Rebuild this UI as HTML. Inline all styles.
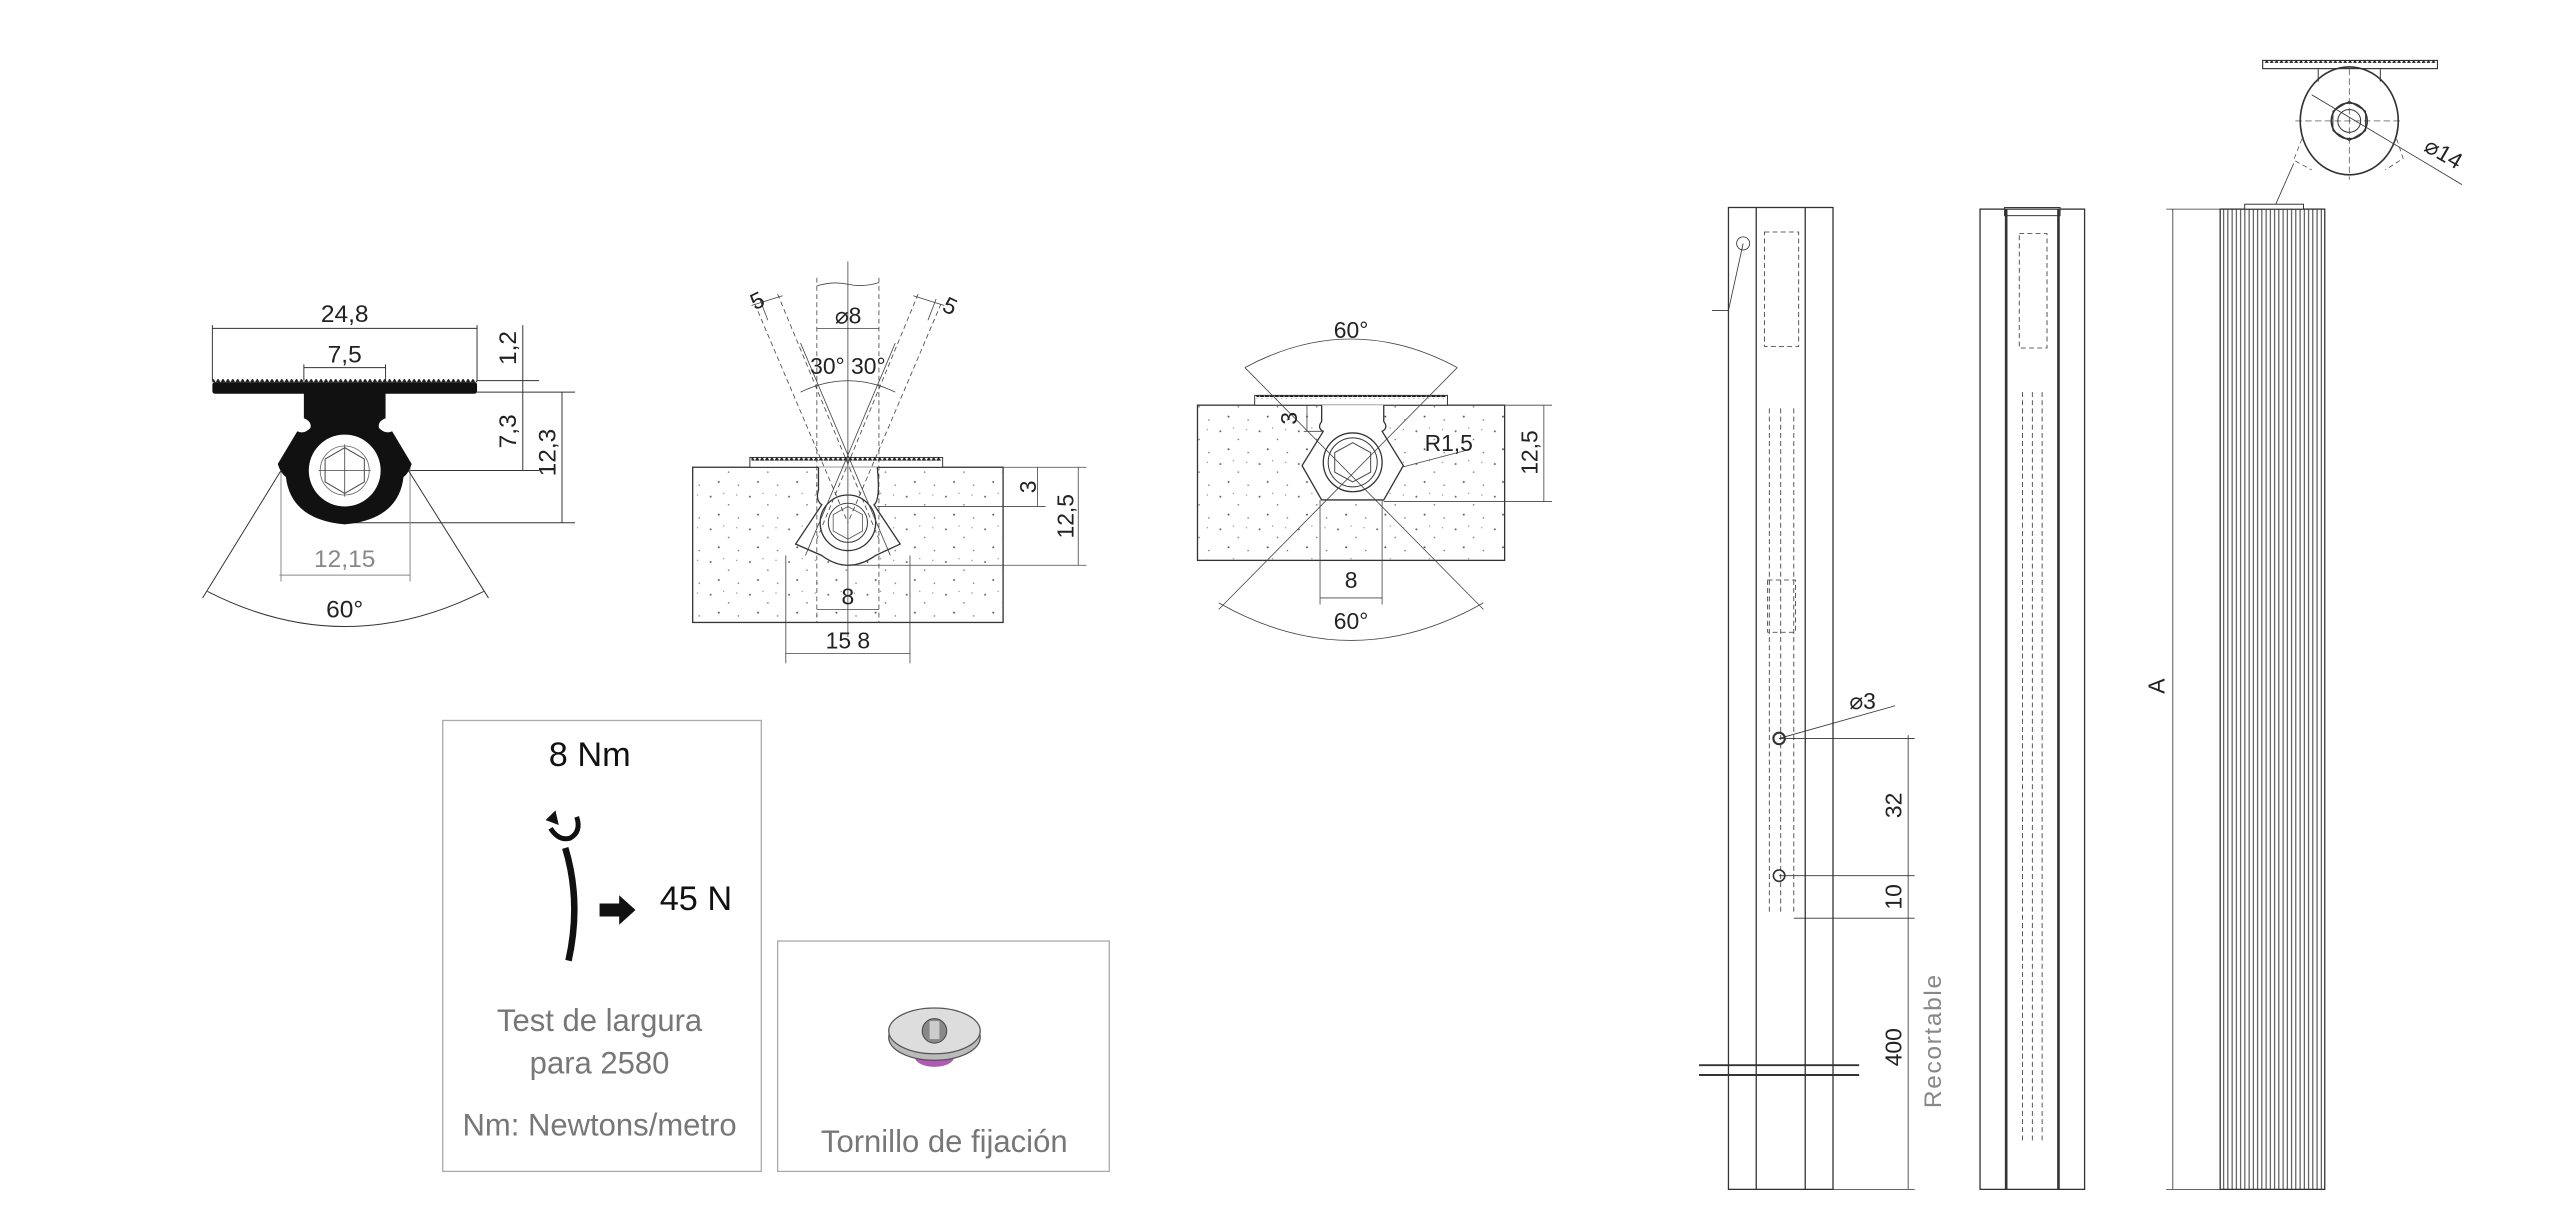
<!DOCTYPE html>
<html><head><meta charset="utf-8"><style>
html,body{margin:0;padding:0;background:#fff;}
svg{display:block;}
text{font-family:"Liberation Sans Narrow","Liberation Sans",sans-serif;}
</style></head><body>
<svg width="2560" height="1232" viewBox="0 0 1567 754.1" preserveAspectRatio="none" xmlns="http://www.w3.org/2000/svg">
<defs>
<pattern id="teeth" width="3" height="3" patternUnits="userSpaceOnUse"><path d="M0 3 L1.5 0.5 L3 3 Z" fill="#222"/></pattern>
<pattern id="conc" width="24" height="20" patternUnits="userSpaceOnUse">
<circle cx="3" cy="4" r="0.6" fill="#666"/><circle cx="14" cy="9" r="0.5" fill="#777"/><circle cx="8" cy="15" r="0.6" fill="#555"/><circle cx="20" cy="17" r="0.5" fill="#777"/><circle cx="19" cy="3" r="0.4" fill="#888"/><circle cx="11" cy="2" r="0.4" fill="#888"/>
</pattern>
<pattern id="flutes" width="2.6" height="10" patternUnits="userSpaceOnUse"><line x1="1.3" y1="0" x2="1.3" y2="10" stroke="#333" stroke-width="0.6"/></pattern>
</defs>
<rect width="1567" height="755" fill="#fff"/>

<!-- ========== DETAIL 1 ========== -->
<g stroke="#333" stroke-width="0.6" fill="none">
<line x1="130" y1="199" x2="130" y2="233"/><line x1="292" y1="199" x2="292" y2="233"/>
<line x1="130" y1="201" x2="292" y2="201"/>
<line x1="186" y1="223" x2="186" y2="233"/><line x1="236" y1="223" x2="236" y2="233"/>
<line x1="186" y1="225" x2="236" y2="225"/>
<line x1="320" y1="199" x2="320" y2="288"/>
<line x1="344" y1="240" x2="344" y2="320"/>
<line x1="292" y1="233" x2="330" y2="233"/>
<line x1="292" y1="240" x2="352" y2="240"/>
<line x1="211" y1="288" x2="330" y2="288"/>
<line x1="211" y1="320" x2="352" y2="320"/>
<line x1="172" y1="285" x2="172" y2="356" stroke="#888"/><line x1="251" y1="285" x2="251" y2="356" stroke="#888"/>
<line x1="171" y1="352" x2="251" y2="352" stroke="#888"/>
<line x1="172" y1="288" x2="124" y2="366"/><line x1="250" y1="288" x2="299" y2="366"/>
<path d="M127 362 Q211 405 296 362"/>
</g>
<g fill="#111">
<rect x="130" y="234" width="162" height="7" rx="1.5"/>
<rect x="130" y="232" width="162" height="2.5" fill="url(#teeth)"/>
<path d="M186 240 H236 V256 Q231 258 232 262 Q236 266 240 264 L252 284 Q250 290 247 292 Q244 318 211 321 Q178 318 175 292 Q172 290 170 284 L182 264 Q186 266 190 262 Q191 258 186 256 Z"/>
</g>
<circle cx="211" cy="288" r="22" fill="#fff"/>
<polygon points="211,274 223,281 223,295 211,302 199,295 199,281" fill="none" stroke="#444" stroke-width="0.6"/>
<circle cx="211" cy="288" r="15" fill="none" stroke="#666" stroke-width="0.5"/>
<line x1="195" y1="288" x2="227" y2="288" stroke="#444" stroke-width="0.5"/><line x1="211" y1="272" x2="211" y2="304" stroke="#444" stroke-width="0.5"/>
<g fill="#222" font-size="15">
<text x="211" y="197" text-anchor="middle">24,8</text>
<text x="211" y="222" text-anchor="middle">7,5</text>
<text x="211" y="378" text-anchor="middle">60°</text>
<text transform="translate(316,213) rotate(-90)" text-anchor="middle">1,2</text>
<text transform="translate(316,264) rotate(-90)" text-anchor="middle">7,3</text>
<text transform="translate(340,277) rotate(-90)" text-anchor="middle">12,3</text>
</g>
<text x="211" y="347" text-anchor="middle" font-size="15" fill="#888">12,15</text>

<!-- ========== DETAIL 2 ========== -->
<rect x="424" y="286" width="190" height="95" fill="url(#conc)" stroke="#333" stroke-width="0.8"/>
<rect x="459" y="280" width="118" height="6" fill="#fff" stroke="#333" stroke-width="0.6"/>
<rect x="460" y="280" width="116" height="2" fill="url(#teeth)"/>
<path d="M501 286 V300 Q499 306 503 309 L487 333 L503 340 Q519 352 536 340 L551 333 L535 309 Q539 306 537 286" fill="#fff" stroke="#333" stroke-width="0.8"/>
<circle cx="519" cy="320" r="17" fill="#fff" stroke="#333" stroke-width="0.8"/>
<circle cx="519" cy="320" r="12" fill="none" stroke="#333" stroke-width="0.6"/>
<polygon points="519,310 528,315 528,325 519,330 510,325 510,315" fill="none" stroke="#555" stroke-width="0.5"/>
<g stroke="#444" stroke-width="0.5" fill="none">
<line x1="519" y1="160" x2="519" y2="390"/>
<line x1="500" y1="170" x2="500" y2="381" stroke-dasharray="3 2"/><line x1="538" y1="170" x2="538" y2="381" stroke-dasharray="3 2"/>
<line x1="500" y1="201" x2="538" y2="201"/>
<path d="M500 175 Q510 172 519 174 Q528 176 538 173"/>
<line x1="462" y1="186" x2="519" y2="320" stroke-dasharray="3 2"/><line x1="476" y1="180" x2="538" y2="330" stroke-dasharray="3 2"/>
<line x1="576" y1="186" x2="519" y2="320" stroke-dasharray="3 2"/><line x1="562" y1="180" x2="500" y2="330" stroke-dasharray="3 2"/>
<line x1="490" y1="210" x2="545" y2="340"/><line x1="548" y1="210" x2="493" y2="340"/>
<line x1="460" y1="187" x2="479" y2="181"/><line x1="559" y1="181" x2="578" y2="187"/>
<line x1="465" y1="183" x2="470" y2="196"/><line x1="573" y1="183" x2="568" y2="196"/>
<path d="M490 240 Q519 226 548 240"/>
<line x1="537" y1="310" x2="640" y2="310"/>
<line x1="614" y1="286" x2="665" y2="286"/>
<line x1="519" y1="346" x2="665" y2="346"/>
<line x1="635" y1="286" x2="635" y2="310"/>
<line x1="660" y1="286" x2="660" y2="346"/>
<line x1="500" y1="373" x2="538" y2="373"/>
<line x1="481" y1="340" x2="481" y2="406"/><line x1="557" y1="340" x2="557" y2="406"/>
<line x1="481" y1="400" x2="557" y2="400"/>
</g>
<g fill="#222" font-size="14">
<text x="511" y="198">⌀8</text>
<text x="519" y="229" text-anchor="middle">30° 30°</text>
<text transform="translate(462,190) rotate(-25)">5</text>
<text transform="translate(576,190) rotate(25)">5</text>
<text transform="translate(634,298) rotate(-90)" text-anchor="middle">3</text>
<text transform="translate(657,316) rotate(-90)" text-anchor="middle">12,5</text>
<text x="519" y="370" text-anchor="middle">8</text>
<text x="519" y="397" text-anchor="middle">15 8</text>
</g>

<!-- ========== DETAIL 3 ========== -->
<rect x="733" y="248" width="188" height="95" fill="url(#conc)" stroke="#333" stroke-width="0.8"/>
<rect x="768" y="242" width="118" height="6" fill="#fff" stroke="#333" stroke-width="0.6"/>
<rect x="769" y="242" width="116" height="2" fill="url(#teeth)"/>
<path d="M809 248 V258 Q806 262 810 264 L797 285 L809 306 H847 L859 285 L846 264 Q850 262 847 258 V248" fill="#fff" stroke="#333" stroke-width="0.8"/>
<circle cx="828" cy="283" r="18" fill="#fff" stroke="#333" stroke-width="0.8"/>
<circle cx="828" cy="283" r="15" fill="none" stroke="#333" stroke-width="0.6"/>
<polygon points="828,271 839,277 839,289 828,295 817,289 817,277" fill="none" stroke="#444" stroke-width="0.6"/>
<g stroke="#444" stroke-width="0.5" fill="none">
<line x1="762" y1="225" x2="908" y2="373"/><line x1="892" y1="225" x2="746" y2="373"/>
<path d="M762 225 Q827 190 892 225"/>
<path d="M746 369 Q827 415 908 369"/>
<line x1="921" y1="248" x2="950" y2="248"/><line x1="847" y1="307" x2="950" y2="307"/>
<line x1="945" y1="248" x2="945" y2="307"/>
<line x1="800" y1="248" x2="800" y2="264"/><line x1="798" y1="264" x2="810" y2="264"/>
<line x1="858" y1="286" x2="900" y2="275"/>
<line x1="808" y1="306" x2="808" y2="370"/><line x1="846" y1="306" x2="846" y2="370"/>
<line x1="808" y1="366" x2="846" y2="366"/>
</g>
<g fill="#222" font-size="14">
<text x="827" y="207" text-anchor="middle">60°</text>
<text x="827" y="385" text-anchor="middle">60°</text>
<text x="872" y="276">R1,5</text>
<text transform="translate(794,256) rotate(-90)" text-anchor="middle">3</text>
<text transform="translate(941,277) rotate(-90)" text-anchor="middle">12,5</text>
<text x="827" y="360" text-anchor="middle">8</text>
</g>

<!-- ========== BOXES ========== -->
<rect x="271" y="441" width="195" height="276" fill="none" stroke="#aaa" stroke-width="0.8"/>
<rect x="476" y="576" width="203" height="141" fill="none" stroke="#aaa" stroke-width="0.8"/>
<text x="361" y="469" text-anchor="middle" font-size="21" fill="#111">8 Nm</text>
<text x="426" y="557" text-anchor="middle" font-size="21" fill="#111">45 N</text>
<path d="M346 519 Q356 552 348 588" fill="none" stroke="#111" stroke-width="4"/>
<path d="M337 507 Q342 515 349 513 Q356 509 353 500" fill="none" stroke="#111" stroke-width="3"/>
<polygon points="334,502 340,496 342,505" fill="#111"/>
<polygon points="367,553 379,553 379,548 389,557 379,566 379,561 367,561" fill="#111"/>
<g fill="#777" font-size="19" text-anchor="middle">
<text x="367" y="631">Test de largura</text>
<text x="367" y="657">para 2580</text>
<text x="367" y="695">Nm: Newtons/metro</text>
<text x="578" y="705">Tornillo de fijación</text>
</g>
<ellipse cx="572" cy="647" rx="12" ry="6" fill="#b05ab5"/>
<ellipse cx="572" cy="635" rx="28" ry="14" fill="#bbb" stroke="#555" stroke-width="0.8"/>
<ellipse cx="572" cy="631" rx="28" ry="14" fill="#ddd" stroke="#555" stroke-width="0.8"/>
<circle cx="572" cy="631" r="7.5" fill="#888" stroke="#444" stroke-width="0.6"/>
<rect x="569" y="625" width="6" height="11" fill="#ccc"/>

<!-- ========== RIGHT COLUMNS ========== -->
<g stroke="#333" stroke-width="0.8" fill="none">
<rect x="1058" y="127" width="64" height="601"/>
<line x1="1075" y1="127" x2="1075" y2="728"/><line x1="1105" y1="127" x2="1105" y2="728"/>
<g stroke-dasharray="3 2" stroke-width="0.5">
<rect x="1080" y="142" width="21" height="70"/><line x1="1083" y1="250" x2="1083" y2="560"/><line x1="1098" y1="250" x2="1098" y2="560"/>
<line x1="1090" y1="250" x2="1090" y2="560"/>
<rect x="1082" y="355" width="17" height="32"/>
</g>
<circle cx="1067" cy="149" r="4" stroke-width="0.5"/>
<path d="M1067 149 L1058 190 H1048" stroke-width="0.5"/>
<line x1="1040" y1="652" x2="1138" y2="652" stroke-width="1.2"/><line x1="1040" y1="658" x2="1138" y2="658" stroke-width="1.2"/>
<circle cx="1089" cy="452" r="3.5" stroke-width="1.3"/>
<circle cx="1089" cy="536" r="3.5" stroke-width="1"/>
<g stroke-width="0.5">
<line x1="1089" y1="452" x2="1172" y2="452"/><line x1="1089" y1="536" x2="1172" y2="536"/>
<line x1="1098" y1="562" x2="1172" y2="562"/><line x1="1122" y1="728" x2="1172" y2="728"/>
<line x1="1168" y1="450" x2="1168" y2="728"/>
<line x1="1089" y1="452" x2="1160" y2="432"/>
</g>
<rect x="1212" y="128" width="64" height="600"/>
<line x1="1228" y1="128" x2="1228" y2="728" stroke-width="1.6"/><line x1="1260" y1="128" x2="1260" y2="728" stroke-width="1.6"/>
<rect x="1227" y="127" width="34" height="5" stroke-width="0.6"/>
<g stroke-dasharray="3 2" stroke-width="0.5">
<rect x="1236" y="143" width="17" height="70"/><line x1="1238" y1="240" x2="1238" y2="700"/><line x1="1250" y1="240" x2="1250" y2="700"/>
<line x1="1244" y1="240" x2="1244" y2="700"/>
</g>
<line x1="1330" y1="128" x2="1330" y2="728" stroke-width="0.5"/>
<line x1="1326" y1="128" x2="1374" y2="128" stroke-width="0.5"/><line x1="1326" y1="728" x2="1359" y2="728" stroke-width="0.5"/>
</g>
<rect x="1359" y="128" width="64" height="600" fill="url(#flutes)" stroke="#333" stroke-width="0.8"/>
<rect x="1374" y="125" width="36" height="3" fill="#fff" stroke="#333" stroke-width="0.6"/>
<g fill="#222" font-size="14">
<text x="1132" y="434">⌀3</text>
<text transform="translate(1164,493) rotate(-90)" text-anchor="middle">32</text>
<text transform="translate(1164,549) rotate(-90)" text-anchor="middle">10</text>
<text transform="translate(1164,641) rotate(-90)" text-anchor="middle">400</text>
<text transform="translate(1325,420) rotate(-90)" text-anchor="middle">A</text>
<text transform="translate(1483,92) rotate(30)">⌀14</text>
</g>
<text transform="translate(1188,637) rotate(-90)" text-anchor="middle" font-size="15" fill="#888" letter-spacing="1">Recortable</text>

<!-- top detail -->
<rect x="1385" y="37" width="107" height="5" fill="#fff" stroke="#333" stroke-width="0.7"/>
<rect x="1386" y="37" width="105" height="1.5" fill="url(#teeth)"/>
<g stroke="#333" fill="none" stroke-width="0.6">
<path d="M1419 42 V50 M1457 42 V50"/>
<ellipse cx="1438" cy="74" rx="30" ry="33" stroke-width="1"/>
<circle cx="1438" cy="74" r="11" stroke-width="1"/>
<circle cx="1438" cy="74" r="7"/>
<polygon points="1438,62 1448,68 1448,80 1438,86 1428,80 1428,68"/>
<line x1="1405" y1="74" x2="1471" y2="74" stroke-dasharray="4 2" stroke-width="0.4"/>
<line x1="1438" y1="42" x2="1438" y2="110" stroke-dasharray="4 2" stroke-width="0.4"/>
<line x1="1415" y1="58" x2="1507" y2="113" stroke-width="0.5"/>
<line x1="1404" y1="100" x2="1393" y2="125" stroke-width="0.5"/>
<path d="M1409 85 L1404 98 L1415 104 M1467 85 L1471 97 L1460 104" stroke-dasharray="3 2" stroke-width="0.4"/>
</g>
</svg>
</body></html>
